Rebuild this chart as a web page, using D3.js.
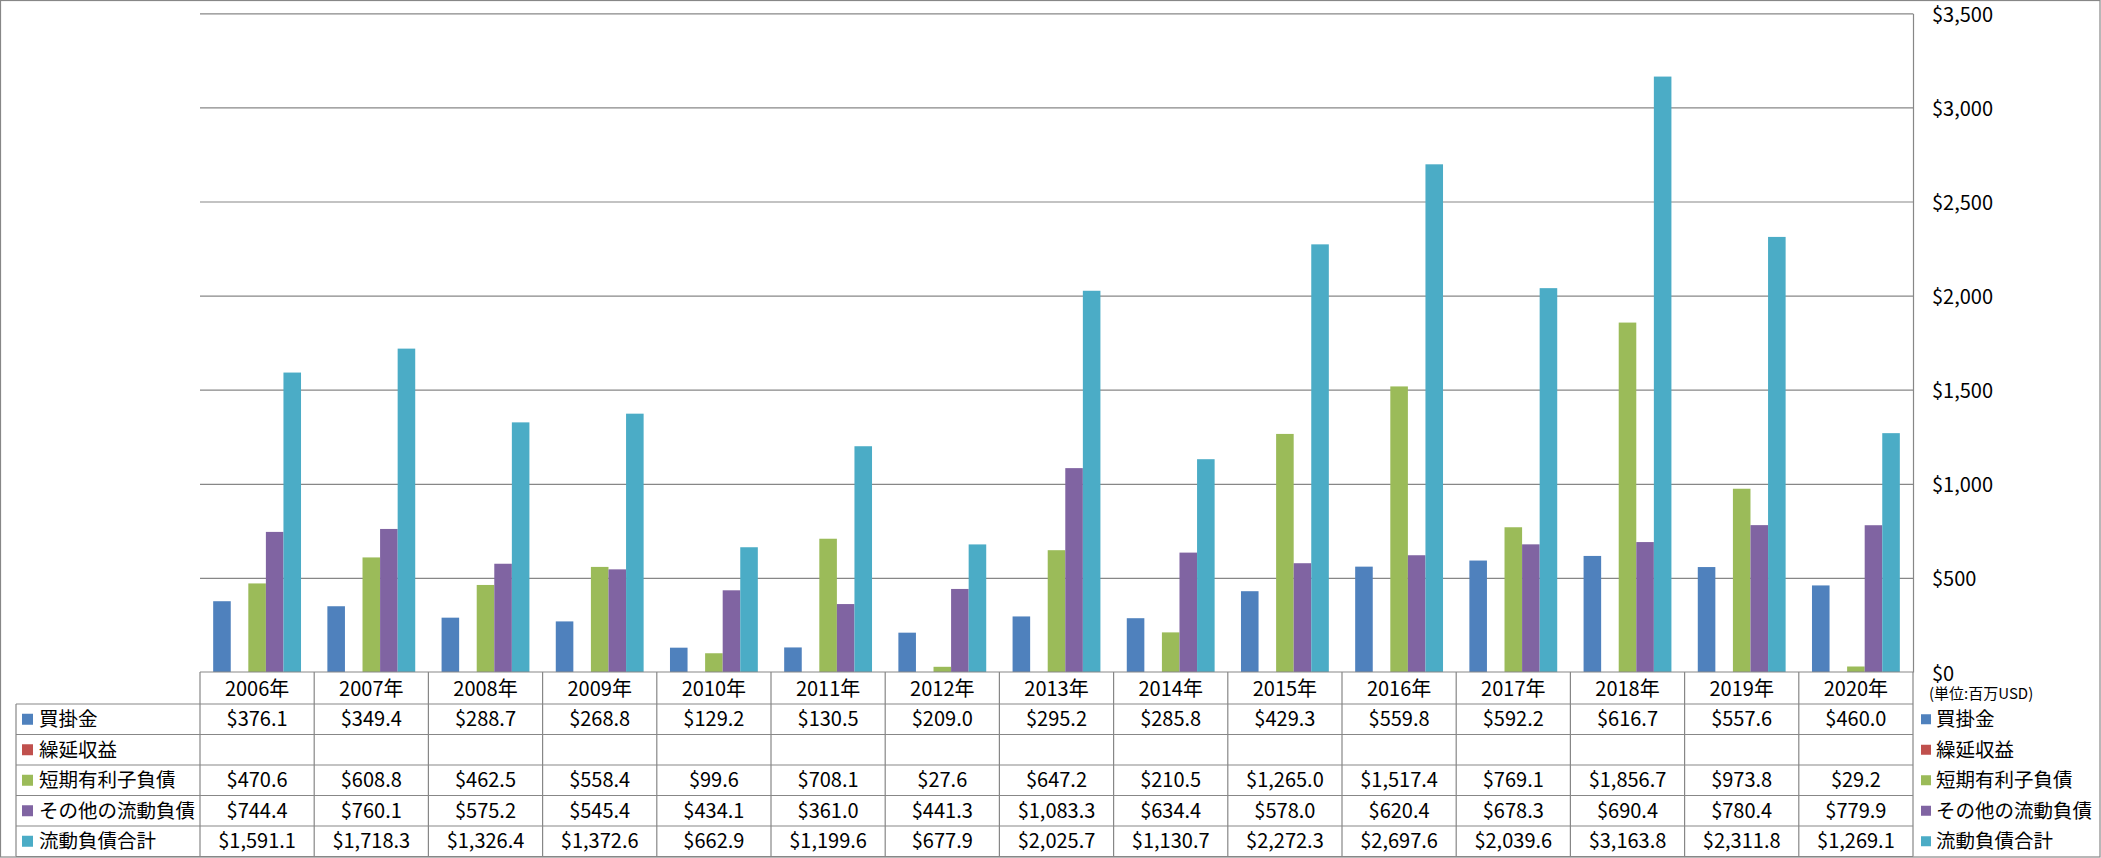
<!DOCTYPE html>
<html>
<head>
<meta charset="utf-8">
<script src="https://cdn.jsdelivr.net/npm/d3@7"></script>
<style>
  html, body { margin: 0; padding: 0; background: #fff; }
  svg { display: block; }
  text { font-family: "Liberation Sans Narrow", "Arial Narrow", "Noto Sans CJK JP", sans-serif; fill: #000; }
</style>
</head>
<body>
<svg id="chart" width="2101" height="858"></svg>
<script>
// ---- data ----
const years = ["2006年","2007年","2008年","2009年","2010年","2011年","2012年","2013年","2014年","2015年","2016年","2017年","2018年","2019年","2020年"];
const seriesNames = ["買掛金","繰延収益","短期有利子負債","その他の流動負債","流動負債合計"];
const accountsPayable = [376.1,349.4,288.7,268.8,129.2,130.5,209.0,295.2,285.8,429.3,559.8,592.2,616.7,557.6,460.0];
const deferredRevenue = [null,null,null,null,null,null,null,null,null,null,null,null,null,null,null];
const shortTermDebt = [470.6,608.8,462.5,558.4,99.6,708.1,27.6,647.2,210.5,1265.0,1517.4,769.1,1856.7,973.8,29.2];
const otherCurrent = [744.4,760.1,575.2,545.4,434.1,361.0,441.3,1083.3,634.4,578.0,620.4,678.3,690.4,780.4,779.9];
const totalCurrent = [1591.1,1718.3,1326.4,1372.6,662.9,1199.6,677.9,2025.7,1130.7,2272.3,2697.6,2039.6,3163.8,2311.8,1269.1];
const yTicks = [0,500,1000,1500,2000,2500,3000,3500];
const unitLabel = "(単位:百万USD)";
const colors = ["#4F81BD","#C0504D","#9BBB59","#8064A2","#4BACC6"];

const seriesValues = [accountsPayable, deferredRevenue, shortTermDebt, otherCurrent, totalCurrent];
const series = seriesNames.map((name, i) => ({ name, color: colors[i], values: seriesValues[i] }));

// ---- layout ----
const W = 2101, H = 858;
const plotL = 200, plotR = 1913, plotT = 13.3, plotB = 672;
const tableL = 16;
const headerH = 32;
const rowH = 30.5;
const gridColor = "#878787";
const fmtVal = v => "$" + d3.format(",.1f")(v);
const fmtTick = v => "$" + d3.format(",")(v);

const svg = d3.select("#chart");

const x0 = d3.scaleBand().domain(years).range([plotL, plotR]).paddingInner(0).paddingOuter(0);
const x1 = d3.scaleBand().domain(seriesNames).range([0, x0.bandwidth()]).paddingInner(0).paddingOuter(0.75);
const y = d3.scaleLinear().domain([0, 3500]).range([plotB, plotT]);

// outer border
svg.append("rect").attr("x", 0.5).attr("y", 0.5).attr("width", W - 1.5).attr("height", H - 1.5)
  .attr("fill", "none").attr("stroke", gridColor).attr("stroke-width", 1.2);

// gridlines
const grid = svg.append("g").attr("transform", `translate(${plotR},0)`)
  .call(d3.axisLeft(y).tickValues(yTicks.filter(d => d > 0)).tickSize(plotR - plotL).tickFormat(""));
grid.select(".domain").remove();
grid.selectAll("line").attr("stroke", gridColor).attr("stroke-width", 1.2);

// right axis
const yAxis = svg.append("g").attr("transform", `translate(${plotR},0)`)
  .call(d3.axisRight(y).tickValues(yTicks).tickSize(0).tickPadding(19).tickFormat(fmtTick));
yAxis.select(".domain").attr("stroke", gridColor).attr("stroke-width", 1.2);
yAxis.selectAll("text").attr("font-size", 20).attr("dy", "0.4em")
  .style("font-family", "'Liberation Sans Narrow','Arial Narrow','Noto Sans CJK JP',sans-serif").attr("fill", "#000");

// unit label
svg.append("text").attr("x", 1929).attr("y", 694).attr("dy", "0.35em")
  .attr("font-size", 15).style("font-family", "'Noto Sans CJK JP',sans-serif").text(unitLabel);

// bars
const gBars = svg.append("g");
series.forEach(s => {
  gBars.append("g").attr("fill", s.color)
    .selectAll("rect")
    .data(years.map((yr, i) => ({ yr, v: s.values[i] })).filter(d => d.v != null))
    .join("rect")
    .attr("x", d => x0(d.yr) + x1(s.name))
    .attr("width", x1.bandwidth())
    .attr("y", d => y(d.v))
    .attr("height", d => y(0) - y(d.v));
});

// ---- data table ----
const tbl = svg.append("g");
const tableBottom = plotB + headerH + rowH * series.length;
tbl.append("line").attr("x1", plotL).attr("x2", plotR).attr("y1", plotB).attr("y2", plotB);
for (let r = 0; r <= series.length; r++) {
  const yy = plotB + headerH + rowH * r;
  tbl.append("line").attr("x1", tableL).attr("x2", plotR).attr("y1", yy).attr("y2", yy);
}
years.forEach(yr => {
  tbl.append("line").attr("x1", x0(yr)).attr("x2", x0(yr)).attr("y1", plotB).attr("y2", tableBottom);
});
tbl.append("line").attr("x1", plotR).attr("x2", plotR).attr("y1", plotB).attr("y2", tableBottom);
tbl.append("line").attr("x1", tableL).attr("x2", tableL).attr("y1", plotB + headerH).attr("y2", tableBottom);
tbl.selectAll("line").attr("stroke", gridColor).attr("stroke-width", 1.2);

// header year labels
tbl.selectAll("text.year").data(years).join("text").attr("class", "year")
  .attr("x", d => x0(d) + x0.bandwidth() / 2).attr("y", plotB + headerH / 2 + 1)
  .attr("dy", "0.35em").attr("text-anchor", "middle").attr("font-size", 20).text(d => d);

// rows
series.forEach((s, r) => {
  const cy = plotB + headerH + rowH * r + rowH / 2;
  tbl.append("rect").attr("x", 22).attr("y", cy - 5.5).attr("width", 11).attr("height", 11).attr("fill", s.color);
  tbl.append("text").attr("x", 39).attr("y", cy).attr("dy", "0.35em").attr("font-size", 19.5)
    .style("font-family", "'Noto Sans CJK JP',sans-serif").text(s.name);
  tbl.append("g").selectAll("text").data(years.map((yr, i) => ({ yr, v: s.values[i] })).filter(d => d.v != null))
    .join("text")
    .attr("x", d => x0(d.yr) + x0.bandwidth() / 2).attr("y", cy).attr("dy", "0.35em")
    .attr("text-anchor", "middle").attr("font-size", 20).text(d => fmtVal(d.v));
  tbl.append("rect").attr("x", 1921).attr("y", cy - 5).attr("width", 10).attr("height", 10).attr("fill", s.color);
  tbl.append("text").attr("x", 1936).attr("y", cy).attr("dy", "0.35em").attr("font-size", 19.5)
    .style("font-family", "'Noto Sans CJK JP',sans-serif").text(s.name);
});
</script>
</body>
</html>
